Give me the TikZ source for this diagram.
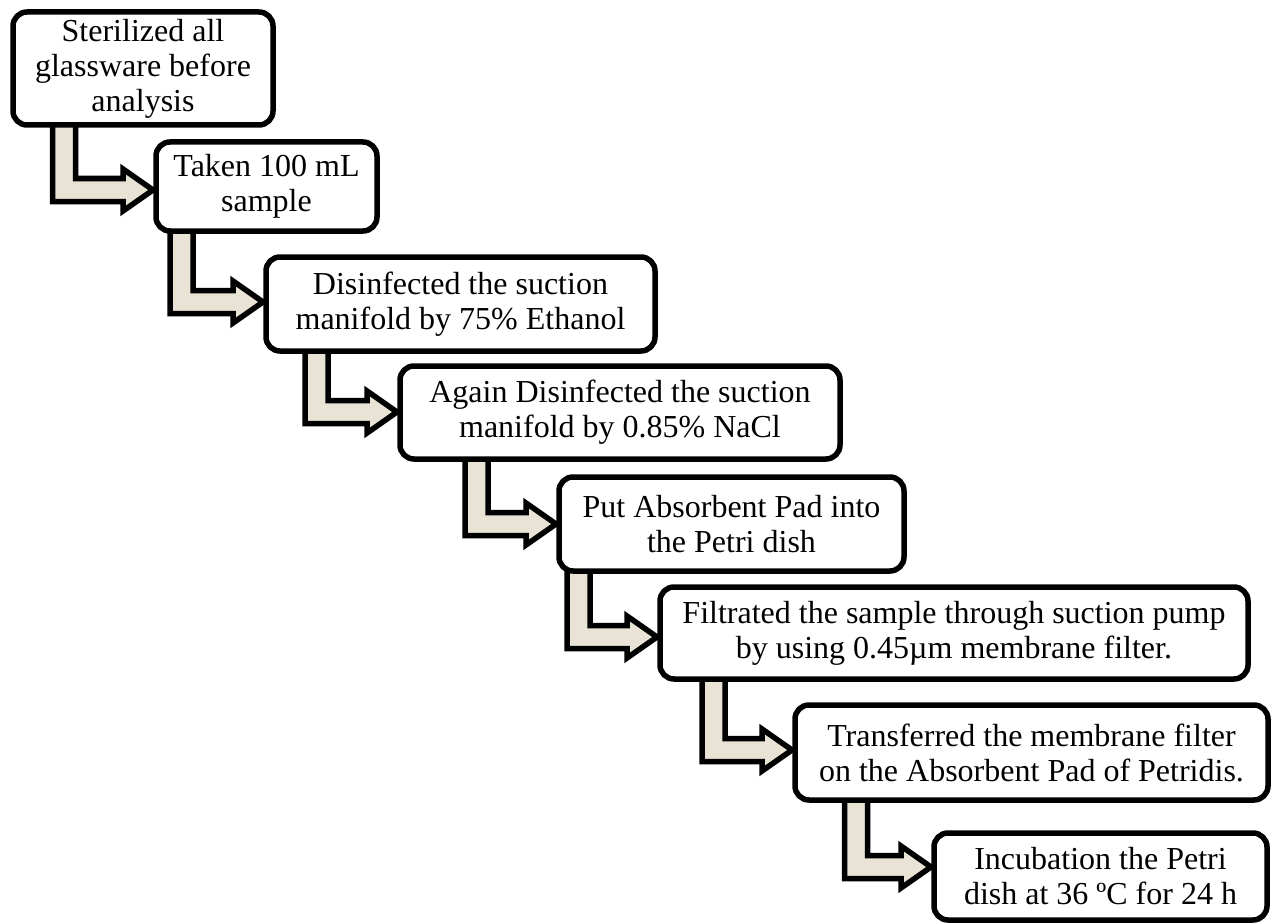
\documentclass[tikz,border=0pt]{standalone}
\usepackage{fontspec}
\setmainfont{Liberation Serif}
\usetikzlibrary{calc}
\definecolor{armfill}{RGB}{233,227,214}
\pgfdeclarelayer{paper}
\pgfdeclarelayer{arrows}
\pgfsetlayers{paper,arrows,main}
\tikzset{
  stepbox/.style={draw=black, line width=5.5pt, rounded corners=14pt, fill=white,
    align=center, inner sep=0pt, outer sep=0pt,
    font=\fontsize{32}{35}\selectfont},
  bentarrow/.style={draw=black, line width=5.5pt, fill=armfill, line join=miter}
}
% L-shaped arrow: #1 source box, #2 target box,
% #3 stem centre x, #4 arm centre y (both in px from the top left corner)
\newcommand\bentarrow[4]{%
  \draw[bentarrow] let \p1=(#1.south), \p2=(#2.west) in
    ({#3pt-11.5pt}, {\y1+8pt}) -- ({#3pt-11.5pt}, {-#4pt-11.5pt})
    -- ({\x2-33pt}, {-#4pt-11.5pt}) -- ({\x2-33pt}, {-#4pt-21pt})
    -- ({\x2-3pt}, {-#4pt}) -- ({\x2-33pt}, {-#4pt+21pt})
    -- ({\x2-33pt}, {-#4pt+11.5pt}) -- ({#3pt+11.5pt}, {-#4pt+11.5pt})
    -- ({#3pt+11.5pt}, {\y1+8pt}) -- cycle;}
\begin{document}
\begin{tikzpicture}[x=1pt, y=-1pt]
\begin{pgfonlayer}{paper}
\fill[white] (0,0) rectangle (1272,923);
\end{pgfonlayer}
\useasboundingbox (0,0) rectangle (1272,923);
% step boxes
\node[stepbox, minimum width=260pt, minimum height=113pt] (b1) at (143,68.5)
  {Sterilized all\\glassware before\\analysis};
\node[stepbox, minimum width=221pt, minimum height=89pt] (b2) at (266.5,186.5)
  {Taken 100 mL\\sample};
\node[stepbox, minimum width=389pt, minimum height=94pt] (b3) at (460.5,304)
  {Disinfected the suction\\manifold by 75\% Ethanol};
\node[stepbox, minimum width=440pt, minimum height=93pt] (b4) at (620,412.5)
  {Again Disinfected the suction\\manifold by 0.85\% NaCl};
\node[stepbox, minimum width=345pt, minimum height=94pt] (b5) at (731.5,524)
  {Put Absorbent Pad into\\the Petri dish};
\node[stepbox, minimum width=588pt, minimum height=92pt] (b6) at (954,633)
  {Filtrated the sample through suction pump\\by using 0.45µm membrane filter.};
\node[stepbox, minimum width=473pt, minimum height=95pt] (b7) at (1031.5,752.5)
  {Transferred the membrane filter\\on the Absorbent Pad of Petridis.};
\node[stepbox, minimum width=333pt, minimum height=87pt] (b8) at (1100.5,876.5)
  {Incubation the Petri\\dish at 36 ºC for 24 h};
% bent arrows between consecutive steps, behind the boxes
\begin{pgfonlayer}{arrows}
\bentarrow{b1}{b2}{64}{190}
\bentarrow{b2}{b3}{181.5}{302}
\bentarrow{b3}{b4}{316.5}{412}
\bentarrow{b4}{b5}{476.5}{524}
\bentarrow{b5}{b6}{578.5}{637}
\bentarrow{b6}{b7}{713.5}{750}
\bentarrow{b7}{b8}{856}{867}
\end{pgfonlayer}
\end{tikzpicture}
\end{document}
